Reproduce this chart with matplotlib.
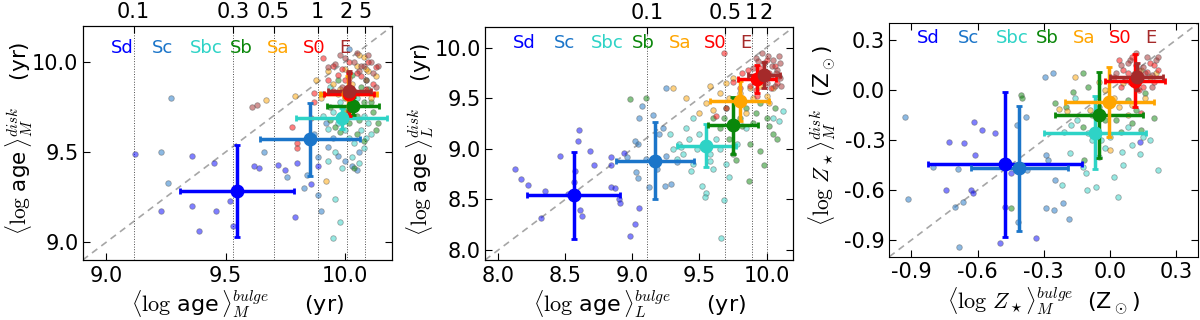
import matplotlib
matplotlib.use('Agg')
import matplotlib.pyplot as plt

plt.rcParams['font.family'] = 'DejaVu Sans'
plt.rcParams['mathtext.fontset'] = 'cm'

types = ['Sd', 'Sc', 'Sbc', 'Sb', 'Sa', 'S0', 'E']
colors = ['#0000ff', '#1b75c9', '#2ed3c6', '#0a870a', '#ffa500', '#ff0000', '#a52a2a']

# panel 1: mass weighted ages, one list per Hubble type
agem_bulge = [
    [9.12, 9.23, 9.36, 9.45, 9.36, 9.39, 9.46, 9.52, 9.53, 9.62, 9.64, 9.72, 9.75, 9.79, 9.80, 9.86, 9.89],
    [9.23, 9.27, 9.26, 9.66, 9.76, 9.83, 9.84, 9.89, 9.90, 10.02, 9.89, 9.93, 9.97, 10.03, 10.05, 9.87, 9.95, 10.00, 10.06, 9.92],
    [9.96, 9.95, 9.98, 9.93, 9.97, 10.00, 10.04, 9.99, 10.07, 9.95, 10.02, 10.09, 9.91, 10.05, 9.98, 10.08, 9.94, 10.10,
     10.03, 10.06, 9.99, 10.08, 9.96, 10.02, 10.11, 9.93],
    [10.13, 9.94, 10.00, 10.06, 10.08, 9.97, 10.03, 10.10, 9.91, 10.05, 10.12, 9.96, 10.02, 10.09,
     10.05, 10.00, 10.11, 10.14, 9.98, 10.07, 9.94, 10.04, 10.08],
    [9.67, 9.79, 9.92, 9.95, 10.00, 10.05, 10.10, 9.93, 10.08, 10.03, 9.98, 10.11, 9.90, 10.06,
     10.02, 10.09, 9.97, 10.13, 9.88],
    [9.78, 9.80, 9.80, 9.91, 9.87, 9.87, 9.86, 9.95, 10.02, 10.07, 9.97, 10.12, 10.04, 9.93, 10.10, 10.00,
     10.05, 9.99, 10.09, 9.95, 10.13],
    [9.63, 9.61, 9.93, 10.00, 10.04, 10.08, 10.12, 10.11, 10.06, 9.96, 10.02, 10.09, 10.13, 9.99,
     10.05, 10.10, 10.14, 10.07, 9.98],
]
agem_disk = [
    [9.49, 9.17, 9.48, 9.44, 9.20, 9.06, 9.17, 9.23, 9.09, 9.42, 9.41, 9.43, 9.40, 9.14, 9.44, 9.32, 9.42],
    [9.50, 9.80, 9.33, 9.50, 9.36, 9.30, 9.37, 9.26, 9.17, 10.07, 9.47, 9.53, 9.48, 9.42, 9.40, 9.60, 9.58, 9.45, 9.50, 9.66],
    [9.24, 9.02, 9.11, 9.63, 9.66, 9.62, 9.55, 9.70, 9.62, 9.72, 9.74, 9.58, 9.70, 9.80, 9.78, 9.70, 9.86, 9.66,
     9.47, 9.44, 9.41, 9.52, 9.50, 9.58, 9.60, 9.45],
    [9.62, 9.75, 9.80, 9.68, 9.78, 9.90, 9.93, 9.85, 9.82, 9.60, 9.72, 9.64, 9.66, 9.90,
     9.70, 9.73, 9.78, 9.66, 9.61, 9.86, 9.68, 9.41, 9.56],
    [9.79, 9.81, 9.34, 9.88, 9.96, 9.98, 9.95, 9.95, 10.03, 9.88, 9.85, 9.80, 9.80, 10.04,
     9.91, 9.96, 9.82, 9.92, 9.90],
    [9.64, 9.52, 9.55, 10.02, 9.83, 9.78, 9.69, 9.98, 10.00, 9.92, 9.93, 9.88, 9.84, 9.90, 10.00, 9.90,
     9.94, 9.96, 9.85, 9.84, 9.97],
    [9.76, 9.75, 9.97, 10.02, 10.00, 9.98, 9.94, 10.00, 9.95, 9.99, 9.94, 9.90, 9.86, 9.86,
     10.05, 10.04, 9.98, 9.98, 10.04],
]
agem_mean_x = [9.547, 9.854, 9.987, 10.036, 10.015, 10.02, 10.02]
agem_err_x = [0.24, 0.21, 0.19, 0.11, 0.12, 0.105, 0.09]
agem_mean_y = [9.285, 9.571, 9.687, 9.756, 9.82, 9.822, 9.84]
agem_err_y = [0.255, 0.204, 0.06, 0.05, 0.10, 0.12, 0.11]

# panel 2: light weighted ages
agel_bulge = [
    [8.12, 8.17, 8.22, 8.32, 8.35, 8.46, 8.57, 8.59, 8.56, 8.61, 8.62, 8.60, 8.68, 8.71, 8.84, 8.84, 8.90, 8.91, 8.84, 8.87, 8.98, 9.02, 8.94, 9.05, 8.52],
    [9.05, 9.07, 9.04, 9.02, 9.03, 9.04, 9.12, 9.20, 9.15, 9.23, 9.24, 9.29, 9.25, 9.33, 9.25, 8.96, 9.10, 9.18],
    [9.30, 9.35, 9.38, 9.42, 9.45, 9.52, 9.55, 9.54, 9.66, 9.68, 9.40, 9.48, 9.58, 9.62, 9.33, 9.50, 9.60, 9.70, 10.09, 10.12, 9.78, 9.85, 9.36, 9.44,
     9.45, 9.28, 9.65, 9.72, 10.05, 9.58],
    [9.77, 9.87, 9.98, 9.95, 9.65, 9.72, 9.80, 9.90, 10.00, 10.05, 9.60, 9.70, 9.85, 9.95, 8.98, 9.10, 9.75, 10.06,
     9.82, 9.92, 10.02, 9.88, 9.68, 10.08],
    [9.40, 9.50, 9.55, 9.65, 9.70, 9.80, 9.90, 10.00, 10.05, 9.85, 9.30, 9.75, 9.95, 9.60,
     9.88, 10.02, 9.72, 9.58],
    [9.68, 9.62, 9.70, 9.80, 9.90, 9.95, 10.02, 10.08, 9.88, 9.75, 10.00, 10.06, 9.82, 9.92,
     9.97, 10.03, 9.86, 10.09, 9.93],
    [9.92, 9.98, 10.05, 10.08, 10.10, 10.03, 9.95, 10.00, 10.09, 9.90, 10.06, 9.97,
     10.04, 10.10, 9.94, 10.07, 10.01, 10.11],
]
agel_disk = [
    [8.80, 8.70, 8.64, 8.32, 8.58, 8.93, 8.78, 9.08, 8.67, 8.39, 8.33, 9.18, 8.98, 8.84, 8.92, 8.84, 8.50, 8.46, 8.62, 8.61, 8.14, 8.26, 8.96, 8.41, 8.55],
    [9.30, 9.42, 9.05, 9.08, 8.77, 8.71, 8.62, 9.15, 9.33, 9.20, 8.63, 8.65, 8.93, 8.87, 9.60, 8.92, 8.90, 8.80],
    [9.00, 9.05, 8.95, 9.10, 8.85, 8.63, 8.56, 8.52, 8.12, 8.49, 9.20, 9.00, 8.95, 9.10, 8.90, 9.15, 8.80, 8.85, 9.27, 9.37, 9.05, 9.20, 9.02, 8.78,
     9.30, 9.15, 9.00, 8.72, 9.30, 8.88],
    [8.89, 8.68, 8.84, 8.98, 9.20, 9.10, 9.30, 9.25, 9.30, 9.15, 9.30, 9.40, 9.40, 9.45, 9.49, 9.50, 8.95, 9.40,
     9.22, 9.35, 9.22, 9.05, 9.30, 9.10],
    [9.50, 9.35, 9.45, 9.55, 9.65, 9.55, 9.50, 9.52, 9.60, 9.35, 9.60, 9.70, 9.62, 9.38,
     9.60, 9.45, 9.50, 9.62],
    [9.95, 9.32, 9.40, 9.60, 9.70, 9.80, 9.75, 9.65, 9.62, 9.66, 9.88, 9.82, 9.75, 9.58,
     9.68, 9.60, 9.78, 9.72, 9.52],
    [9.90, 9.85, 9.88, 9.78, 9.70, 9.72, 9.75, 9.65, 9.92, 9.80, 9.62, 9.95,
     9.82, 9.85, 9.87, 9.75, 9.92, 9.62],
]
agel_mean_x = [8.56, 9.17, 9.55, 9.75, 9.80, 9.93, 9.98]
agel_err_x = [0.35, 0.29, 0.22, 0.19, 0.22, 0.14, 0.12]
agel_mean_y = [8.54, 8.88, 9.03, 9.23, 9.47, 9.69, 9.73]
agel_err_y = [0.43, 0.38, 0.21, 0.28, 0.20, 0.14, 0.13]

# panel 3: mass weighted metallicity
zm_bulge = [
    [-0.73, -0.745, -0.63, -0.62, -0.616, -0.58, -0.50, -0.475, -0.45, -0.336, -0.66, -0.52, 0.137, -0.61],
    [-0.93, -0.917, -0.70, -0.684, -0.687, -0.667, -0.42, -0.415, -0.377, -0.294, -0.256, -0.29, -0.253, -0.249, -0.29, -0.28, -0.38, -0.214, -0.184, -0.80],
    [-0.218, -0.21, -0.178, -0.12, -0.105, -0.11, -0.063, -0.022, 0.039, 0.054, 0.137, 0.182, 0.22, -0.15, -0.08, 0.0, 0.08, -0.05, 0.10, -0.16,
     -0.04, 0.06, -0.18, 0.15, -0.10, 0.02],
    [-0.404, -0.40, -0.166, -0.116, -0.10, -0.05, 0.03, 0.08, 0.16, -0.20, 0.20, -0.12, 0.12, -0.12, -0.45,
     -0.08, 0.05, -0.02, 0.10, -0.25, 0.14],
    [-0.23, -0.196, -0.16, -0.05, 0.02, 0.06, 0.10, 0.18, 0.21, -0.09, 0.0, 0.14,
     0.04, 0.12, -0.02, 0.16, 0.08],
    [0.04, 0.08, 0.12, 0.15, 0.18, 0.20, 0.06, 0.10, 0.02, 0.14, 0.22,
     0.09, 0.17, 0.13, 0.05, 0.20],
    [0.05, 0.09, 0.13, 0.17, 0.21, 0.07, 0.11, 0.16, 0.19, 0.12, 0.03,
     0.15, 0.19, 0.08, 0.22, 0.14],
]
zm_disk = [
    [-0.31, -0.60, -0.60, -0.62, -0.19, -0.24, -0.92, -0.70, -0.50, -0.886, -0.32, -0.26, -0.31, -0.39],
    [-0.16, -0.656, -0.70, -0.94, -0.476, -0.67, -0.21, -0.79, -0.48, 0.08, 0.10, -0.71, -0.72, -0.54, -0.39, -0.42, -0.16, -0.68, -0.776, -0.46],
    [-0.57, -0.25, -0.21, -0.46, -0.60, -0.50, -0.58, -0.35, -0.64, -0.37, -0.386, -0.30, -0.48, -0.18, -0.30, -0.28, -0.22, -0.40, -0.33, -0.05,
     -0.30, -0.45, -0.38, -0.28, -0.26, -0.52],
    [-0.03, -0.05, -0.01, -0.42, 0.02, -0.10, -0.18, -0.06, -0.02, -0.10, -0.17, -0.22, -0.12, 0.10, -0.71,
     -0.15, -0.25, -0.18, -0.20, -0.08, -0.24],
    [-0.116, -0.126, 0.08, 0.05, -0.05, 0.04, -0.09, 0.08, 0.10, -0.12, -0.36, 0.12,
     -0.10, 0.02, 0.00, -0.05, -0.15],
    [0.18, 0.10, 0.15, 0.02, 0.16, 0.05, 0.12, 0.20, 0.08, -0.14, 0.12,
     0.05, 0.11, 0.00, 0.02, 0.15],
    [0.15, 0.18, 0.12, 0.20, 0.18, 0.06, 0.04, 0.10, 0.02, 0.22, 0.10,
     0.14, 0.09, 0.16, 0.20, 0.06],
]
zm_mean_x = [-0.475, -0.41, -0.067, -0.049, -0.002, 0.114, 0.122]
zm_err_x = [0.35, 0.22, 0.23, 0.20, 0.20, 0.135, 0.12]
zm_mean_y = [-0.446, -0.47, -0.256, -0.15, -0.07, 0.056, 0.08]
zm_err_y = [0.435, 0.375, 0.22, 0.26, 0.21, 0.16, 0.08]

# top axis (dotted guide lines)
top1_pos = [9.114, 9.531, 9.702, 9.887, 10.008, 10.087]
top1_lab = ['0.1', '0.3', '0.5', '1', '2', '5']
top2_pos = [9.11, 9.69, 9.89, 10.0]
top2_lab = ['0.1', '0.5', '1', '2']

label_xpos = [0.127, 0.258, 0.398, 0.513, 0.632, 0.748, 0.846]

fig = plt.figure(figsize=(12, 3.2), dpi=100)

panels = [
    dict(rect=[0.0689, 0.1875, 0.258, 0.731], lim=(8.9, 10.2), xs=agem_bulge, ys=agem_disk,
         mx=agem_mean_x, ex=agem_err_x, my=agem_mean_y, ey=agem_err_y,
         ticks=[9.0, 9.5, 10.0], top=(top1_pos, top1_lab), ly=0.907, ylx=-0.155,
         xlabel=r'$\langle\log\,$age$\,\rangle_M^{bulge}$     (yr)',
         ylabel=r'$\langle\log\,$age$\,\rangle_M^{disk}$    (yr)'),
    dict(rect=[0.4042, 0.1875, 0.2569, 0.7272], lim=(7.9, 10.2), xs=agel_bulge, ys=agel_disk,
         mx=agel_mean_x, ex=agel_err_x, my=agel_mean_y, ey=agel_err_y,
         ticks=[8.0, 8.5, 9.0, 9.5, 10.0], top=(top2_pos, top2_lab), ly=0.934, ylx=-0.158,
         xlabel=r'$\langle\log\,$age$\,\rangle_L^{bulge}$     (yr)',
         ylabel=r'$\langle\log\,$age$\,\rangle_L^{disk}$    (yr)'),
    dict(rect=[0.7411, 0.1978, 0.2573, 0.7294], lim=(-1.0, 0.4), xs=zm_bulge, ys=zm_disk,
         mx=zm_mean_x, ex=zm_err_x, my=zm_mean_y, ey=zm_err_y,
         ticks=[-0.9, -0.6, -0.3, 0.0, 0.3], top=None, ly=0.936, ylx=-0.165,
         xlabel=r'$\langle\log\,Z_\star\rangle_M^{bulge}$  (Z$_\odot$)',
         ylabel=r'$\langle\log\,Z_\star\rangle_M^{disk}$  (Z$_\odot$)'),
]

for p in panels:
    ax = fig.add_axes(p['rect'])
    lo, hi = p['lim']
    ax.plot([lo, hi], [lo, hi], ls='--', color='0.65', lw=1.2, dashes=(4, 3), zorder=1)
    if p['top'] is not None:
        for xv in p['top'][0]:
            ax.axvline(xv, color='0.3', ls=':', lw=0.7, zorder=1)
    for i in range(len(types)):
        ax.scatter(p['xs'][i], p['ys'][i], s=16, color=colors[i], alpha=0.5,
                   edgecolors='0.35', linewidths=0.6, zorder=2)
    for i in range(len(types)):
        ax.errorbar(p['mx'][i], p['my'][i], xerr=p['ex'][i], yerr=p['ey'][i], fmt='o',
                    color=colors[i], ms=9, lw=2.5, capsize=2, capthick=2, zorder=3)
    for i, name in enumerate(types):
        ax.text(label_xpos[i], p['ly'], name, color=colors[i], fontsize=13,
                ha='center', va='center', transform=ax.transAxes)
    ax.set_xlim(lo, hi)
    ax.set_ylim(lo, hi)
    ax.set_xticks(p['ticks'])
    ax.set_yticks(p['ticks'])
    ax.set_xticklabels(['%.1f' % t for t in p['ticks']])
    ax.set_yticklabels(['%.1f' % t for t in p['ticks']])
    ax.tick_params(direction='in', length=5, labelsize=15, right=True,
                   top=p['top'] is None, pad=4)
    ax.tick_params(axis='y', pad=3)
    ax.set_xlabel(p['xlabel'], fontsize=16, labelpad=2)
    ax.set_ylabel(p['ylabel'], fontsize=15.5)
    ax.yaxis.set_label_coords(p['ylx'], 0.52)
    if p['top'] is not None:
        ax2 = ax.twiny()
        ax2.set_xlim(lo, hi)
        ax2.set_xticks(p['top'][0])
        ax2.set_xticklabels(p['top'][1])
        ax2.tick_params(direction='in', length=5, labelsize=15, pad=3)

fig.savefig('out.png', dpi=100)
